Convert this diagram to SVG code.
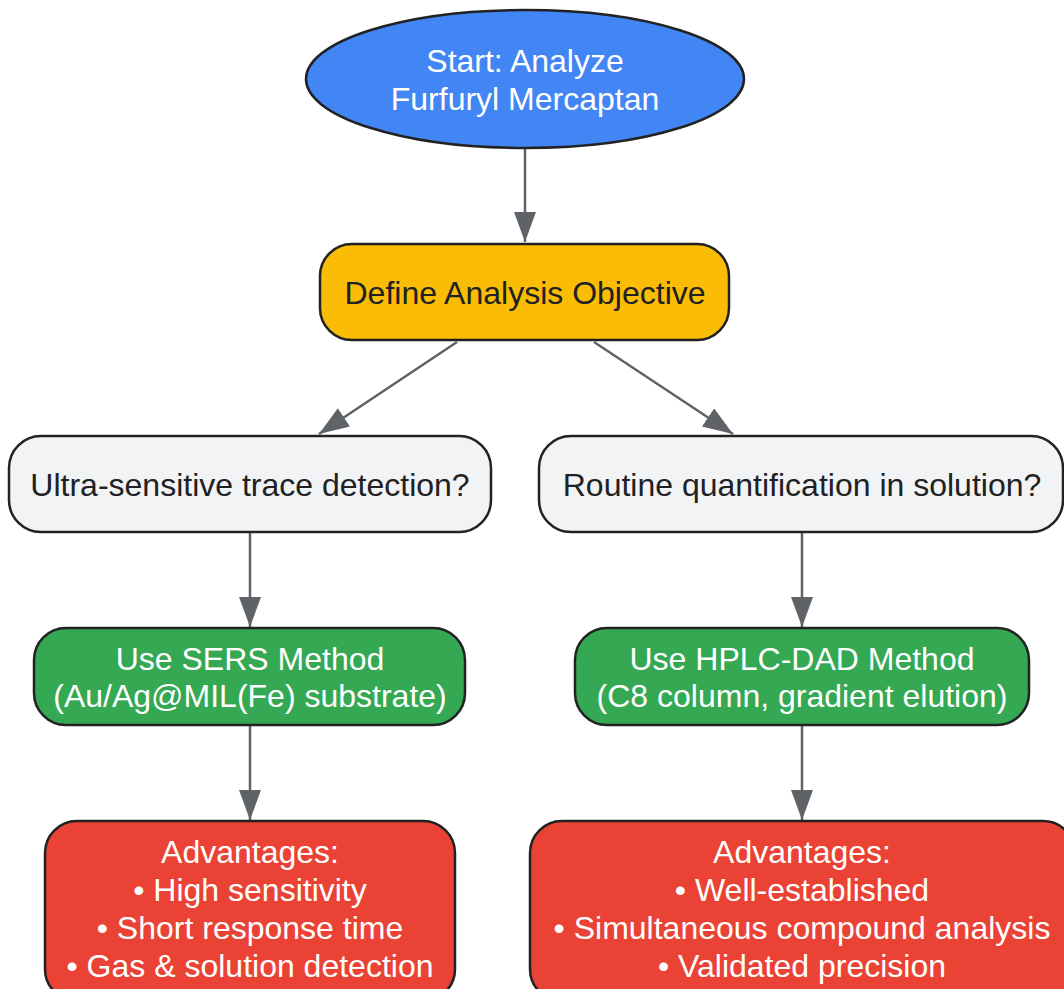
<svg xmlns="http://www.w3.org/2000/svg" width="1064" height="989" viewBox="0 0 1064 989">
<style>
  .node { stroke: #222222; stroke-width: 2.5; }
  .blue { fill: #4285F4; }
  .yellow { fill: #FBBC05; }
  .gray { fill: #F1F3F4; }
  .green { fill: #34A853; }
  .red { fill: #EA4335; }
  text { font-family: "Liberation Sans", Arial, sans-serif; font-size: 32px; text-anchor: middle; }
  .light { fill: #FFFFFF; }
  .dark { fill: #202124; }
  .edge { stroke: #5F6368; stroke-width: 2.5; fill: none; marker-end: url(#arrow); }
</style>
<defs>
  <marker id="arrow" markerUnits="userSpaceOnUse" markerWidth="32" markerHeight="24" refX="30" refY="11" orient="auto">
    <path d="M0,0 L30,11 L0,22 Z" fill="#5F6368"/>
  </marker>
</defs>
<rect width="1064" height="989" fill="#FFFFFF"/>
<g id="connectors">
  <line class="edge" x1="525" y1="149" x2="525" y2="242"/>
  <line class="edge" x1="457" y1="342" x2="319" y2="434"/>
  <line class="edge" x1="594" y1="342" x2="733" y2="434"/>
  <line class="edge" x1="250" y1="533" x2="250" y2="627"/>
  <line class="edge" x1="802" y1="533" x2="802" y2="627"/>
  <line class="edge" x1="250" y1="726" x2="250" y2="820"/>
  <line class="edge" x1="802" y1="726" x2="802" y2="820"/>
</g>
<g id="start">
  <ellipse class="node blue" cx="525" cy="79" rx="219" ry="69"/>
  <text class="light" x="525" y="72">Start: Analyze</text>
  <text class="light" x="525" y="110">Furfuryl Mercaptan</text>
</g>
<g id="define">
  <rect class="node yellow" x="320" y="244" width="409" height="96" rx="32" ry="32"/>
  <text class="dark" x="525" y="304">Define Analysis Objective</text>
</g>
<g id="ultra">
  <rect class="node gray" x="9" y="436" width="482" height="96" rx="32" ry="32"/>
  <text class="dark" x="250" y="496">Ultra-sensitive trace detection?</text>
</g>
<g id="routine">
  <rect class="node gray" x="539" y="436" width="524" height="96" rx="32" ry="32"/>
  <text class="dark" x="802" y="496">Routine quantification in solution?</text>
</g>
<g id="sers">
  <rect class="node green" x="34" y="628" width="431" height="97" rx="32" ry="32"/>
  <text class="light" x="250" y="670">Use SERS Method</text>
  <text class="light" x="250" y="707">(Au/Ag@MIL(Fe) substrate)</text>
</g>
<g id="hplc">
  <rect class="node green" x="575" y="628" width="454" height="97" rx="32" ry="32"/>
  <text class="light" x="802" y="670">Use HPLC-DAD Method</text>
  <text class="light" x="802" y="707">(C8 column, gradient elution)</text>
</g>
<g id="sers-adv">
  <rect class="node red" x="45" y="821" width="410" height="180" rx="32" ry="32"/>
  <text class="light" x="250" y="863">Advantages:</text>
  <text class="light" x="250" y="901">• High sensitivity</text>
  <text class="light" x="250" y="939">• Short response time</text>
  <text class="light" x="250" y="977">• Gas &amp; solution detection</text>
</g>
<g id="hplc-adv">
  <rect class="node red" x="530" y="821" width="545" height="180" rx="32" ry="32"/>
  <text class="light" x="802" y="863">Advantages:</text>
  <text class="light" x="802" y="901">• Well-established</text>
  <text class="light" x="802" y="939">• Simultaneous compound analysis</text>
  <text class="light" x="802" y="977">• Validated precision</text>
</g>
</svg>
